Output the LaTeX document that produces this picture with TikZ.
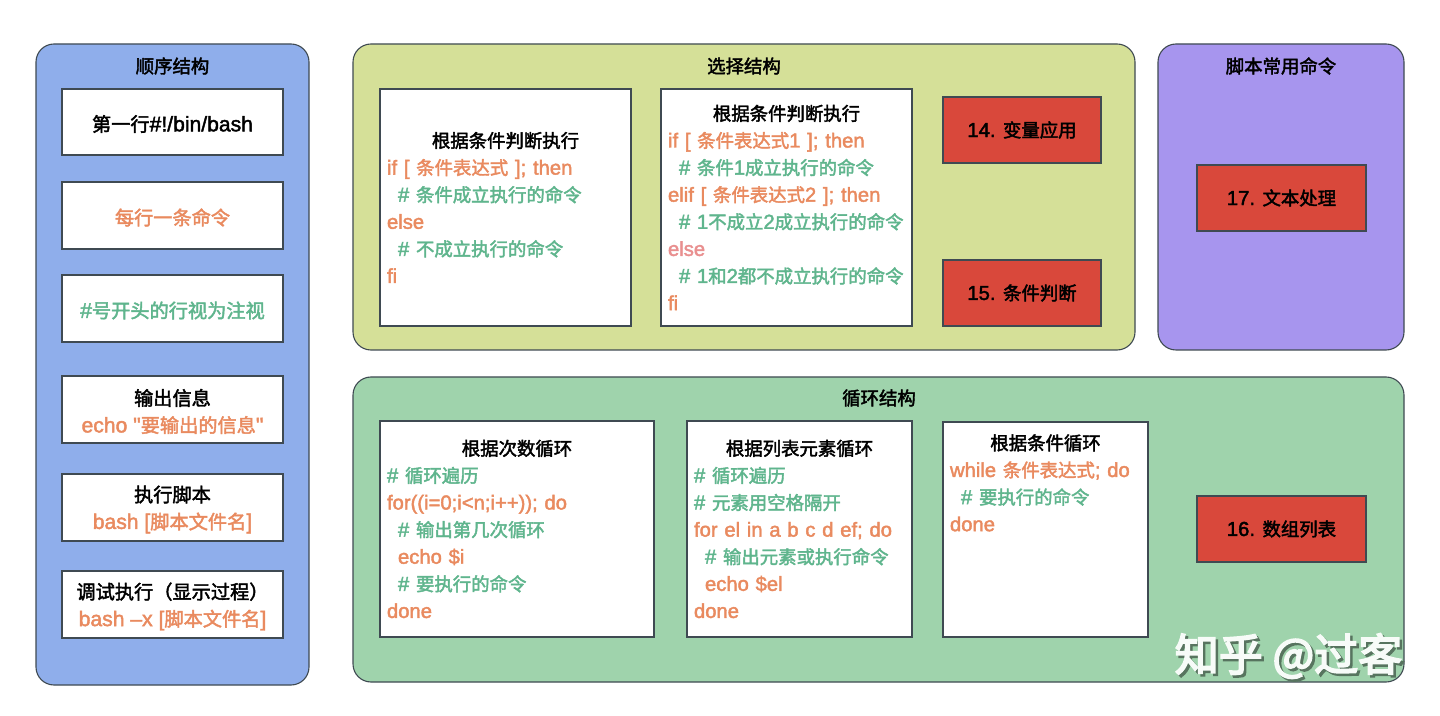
\documentclass[tikz,border=0pt]{standalone}
\usepackage{fontspec}
\newfontfamily\latfont[Scale=1.1,FakeBold=2]{Liberation Sans}
\newfontfamily\cjkfont[FakeBold=2.2]{Noto Sans CJK SC}
\newfontfamily\wmfont[FakeBold=4]{Noto Sans CJK SC}
\newcommand{\C}[1]{{\cjkfont #1}}
\definecolor{edge}{HTML}{3F4A52}
\definecolor{blueg}{HTML}{8FAEEB}
\definecolor{yellowg}{HTML}{D5E098}
\definecolor{purpleg}{HTML}{A795EE}
\definecolor{greeng}{HTML}{9FD3AC}
\definecolor{redbox}{HTML}{D9483B}
\definecolor{codeo}{HTML}{E98A5F}
\definecolor{codeg}{HTML}{5FB58D}
\definecolor{codep}{HTML}{E98F8F}
\newcommand{\Oo}[1]{\textcolor{codeo}{#1}}
\newcommand{\Gg}[1]{\textcolor{codeg}{#1}}
\newcommand{\Tt}[1]{\makebox[\hsize][c]{#1}}
\newcommand{\Ind}{\hspace*{5.5pt}}
\tikzset{
  basefont/.style={font=\fontsize{9.2}{13.55}\selectfont\latfont},
  bigfont/.style={font=\fontsize{9.6}{13.55}\selectfont\latfont},
  sized/.style 2 args={minimum width=#1*0.5pt,minimum height=#2*0.5pt,inner sep=0pt,outer sep=0pt},
  group/.style 2 args={draw=edge,line width=0.55pt,rounded corners=9pt,sized={#1}{#2}},
  plainbox/.style 2 args={draw=edge,line width=0.55pt,fill=white,sized={#1}{#2}},
  lefttext/.style={bigfont,align=center,inner sep=0pt,text=black,yshift=-1pt},
  codebox/.style 2 args={draw=edge,line width=0.55pt,fill=white,minimum width=#1*0.5pt,minimum height=#2*0.5pt,
     inner xsep=3.5pt,inner ysep=0pt,outer sep=0pt,text width=#1*0.5pt-7pt,align=left,basefont},
  redn/.style 2 args={draw=edge,line width=0.55pt,fill=redbox,sized={#1}{#2},basefont,text=black},
  head/.style={basefont,inner sep=0pt,text=black},
  watermark/.style={font=\fontsize{22}{22}\selectfont\wmfont,inner sep=0pt}
}
\begin{document}
\begin{tikzpicture}[x=0.5pt,y=-0.5pt]
\useasboundingbox[fill=white] (0,0) rectangle (1440,716);
% groups
\node[group={273}{641},fill=blueg] (seq) at (172.5,364.5) {};
\node[group={782}{306},fill=yellowg] (sel) at (744,197) {};
\node[group={246}{306},fill=purpleg] (cmd) at (1281,197) {};
\node[group={1051}{305},fill=greeng] (loop) at (878.5,529.5) {};
% headings
\node[head] (seqt) at (172.5,66) {\C{顺序结构}};
\node[head] (selt) at (744,66) {\C{选择结构}};
\node[head] (cmdt) at (1281,66) {\C{脚本常用命令}};
\node[head] (loopt) at (879,398) {\C{循环结构}};
% left column
\node[plainbox={221}{66}] (a1) at (172.5,122) {};
\node[lefttext] (a1t) at (a1) {\C{第一行}\#!/bin/bash};
\node[plainbox={221}{67}] (a2) at (172.5,215.5) {};
\node[lefttext] (a2t) at (a2) {\Oo{\C{每行一条命令}}};
\node[plainbox={221}{67}] (a3) at (172.5,308.5) {};
\node[lefttext] (a3t) at (a3) {\Gg{\#\C{号开头的行视为注视}}};
\node[plainbox={221}{67}] (a4) at (172.5,409.5) {};
\node[lefttext] (a4t) at (a4) {\C{输出信息}\\\Oo{echo "\C{要输出的信息}"}};
\node[plainbox={221}{67}] (a5) at (172.5,507.5) {};
\node[lefttext] (a5t) at (a5) {\C{执行脚本}\\\Oo{bash [\C{脚本文件名}]}};
\node[plainbox={221}{67}] (a6) at (172.5,604.5) {};
\node[lefttext] (a6t) at (a6) {\C{调试执行（显示过程）}\\\Oo{bash –x [\C{脚本文件名}]}};
% selection
\node[codebox={251}{237}] (b1) at (505.5,207.5) {\Tt{\C{根据条件判断执行}}\\
\Oo{if [ \C{条件表达式} ]; then}\\
\Ind\Gg{\# \C{条件成立执行的命令}}\\
\Oo{else}\\
\Ind\Gg{\# \C{不成立执行的命令}}\\
\Oo{fi}};
\node[codebox={251}{237}] (b2) at (786.5,207.5) {\Tt{\C{根据条件判断执行}}\\
\Oo{if [ \C{条件表达式}1 ]; then}\\
\Ind\Gg{\# \C{条件}1\C{成立执行的命令}}\\
\Oo{elif [ \C{条件表达式}2 ]; then}\\
\Ind\Gg{\# 1\C{不成立}2\C{成立执行的命令}}\\
\textcolor{codep}{else}\\
\Ind\Gg{\# 1\C{和}2\C{都不成立执行的命令}}\\
\Oo{fi}};
\node[redn={158}{66}] (r14) at (1022,130) {14. \C{变量应用}};
\node[redn={158}{66}] (r15) at (1022,293) {15. \C{条件判断}};
\node[redn={169}{66}] (r17) at (1281.5,198) {17. \C{文本处理}};
% loops
\node[codebox={274}{216}] (c1) at (517,529) {\Tt{\C{根据次数循环}}\\
\Gg{\# \C{循环遍历}}\\
\Oo{for((i=0;i<n;i++)); do}\\
\Ind\Gg{\# \C{输出第几次循环}}\\
\Ind\Oo{echo \$i}\\
\Ind\Gg{\# \C{要执行的命令}}\\
\Oo{done}};
\node[codebox={225}{216}] (c2) at (799.5,529) {\Tt{\C{根据列表元素循环}}\\
\Gg{\# \C{循环遍历}}\\
\Gg{\# \C{元素用空格隔开}}\\
\Oo{for el in a b c d ef; do}\\
\Ind\Gg{\# \C{输出元素或执行命令}}\\
\Ind\Oo{echo \$el}\\
\Oo{done}};
\node[plainbox={205}{215}] (c3) at (1045.5,529.5) {};
\node[anchor=north,yshift=-6pt,text width=95.5pt,align=left,inner sep=0pt,basefont] (c3t) at (c3.north) {\Tt{\C{根据条件循环}}\\
\Oo{while \C{条件表达式}; do}\\
\Ind\Gg{\# \C{要执行的命令}}\\
\Oo{done}};
\node[redn={169}{66}] (r16) at (1281.5,529) {16. \C{数组列表}};
% watermark
\node[watermark,text=black!45!greeng] (wm0) at (1291,658.5) {知乎 @过客};
\node[watermark,text=white!92!greeng] (wm) at (1288.5,656) {知乎 @过客};
\end{tikzpicture}
\end{document}
